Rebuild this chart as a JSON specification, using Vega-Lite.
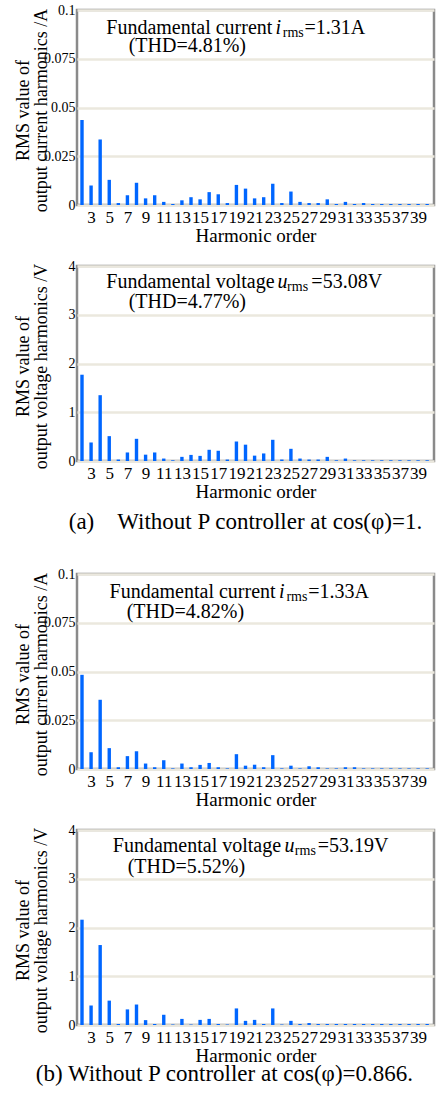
{
  "$schema": "https://vega.github.io/schema/vega-lite/v6.json",
  "padding": {"left": 12, "top": 1, "right": 1, "bottom": 2},
  "config": {
    "font": "Liberation Serif",
    "view": {"stroke": "#8a8a8a", "strokeWidth": 2.5},
    "axisX": {"labelFontSize": 17, "labelColor": "#000", "labelPadding": 4, "ticks": false, "domain": false, "grid": false, "labelOverlap": false, "labelFlush": false, "labelBound": false, "labelExpr": "'' + datum.value", "titleFontSize": 19, "titleFontWeight": "normal", "titleColor": "#000", "titlePadding": 1, "tickCount": 60},
    "axisY": {"labelFontSize": 14, "labelColor": "#000", "labelPadding": 2, "ticks": false, "domain": false, "grid": true, "gridColor": "#ebe8de", "gridWidth": 2.5, "labelOverlap": false, "labelFlush": false, "labelExpr": "'' + datum.value", "titleFontSize": 18, "titleFontWeight": "normal", "titleColor": "#000", "titleLineHeight": 18, "titleX": -45, "titleY": 100, "tickCount": 20},
    "title": {"fontSize": 23, "fontWeight": "normal", "color": "#000", "font": "Liberation Serif"},
    "text": {"font": "Liberation Serif", "fontSize": 20, "color": "#000", "align": "left", "baseline": "alphabetic"}
  },
  "datasets": {
    "current_a": [
      {"order": 2, "rms": 0.0436}, {"order": 3, "rms": 0.0100}, {"order": 4, "rms": 0.0336}, {"order": 5, "rms": 0.0129},
      {"order": 6, "rms": 0.0010}, {"order": 7, "rms": 0.0050}, {"order": 8, "rms": 0.0114}, {"order": 9, "rms": 0.0034},
      {"order": 10, "rms": 0.0050}, {"order": 11, "rms": 0.0016}, {"order": 12, "rms": 0.0005}, {"order": 13, "rms": 0.0024},
      {"order": 14, "rms": 0.0040}, {"order": 15, "rms": 0.0029}, {"order": 16, "rms": 0.0066}, {"order": 17, "rms": 0.0055},
      {"order": 18, "rms": 0.0010}, {"order": 19, "rms": 0.0103}, {"order": 20, "rms": 0.0084}, {"order": 21, "rms": 0.0034},
      {"order": 22, "rms": 0.0040}, {"order": 23, "rms": 0.0109}, {"order": 24, "rms": 0.0010}, {"order": 25, "rms": 0.0069},
      {"order": 26, "rms": 0.0016}, {"order": 27, "rms": 0.0010}, {"order": 28, "rms": 0.0010}, {"order": 29, "rms": 0.0029},
      {"order": 30, "rms": 0.0005}, {"order": 31, "rms": 0.0016}, {"order": 32, "rms": 0.0005}, {"order": 33, "rms": 0.0010},
      {"order": 34, "rms": 0.0005}, {"order": 35, "rms": 0.0005}, {"order": 36, "rms": 0.0005}, {"order": 37, "rms": 0.0005},
      {"order": 38, "rms": 0.0005}, {"order": 39, "rms": 0.0005}, {"order": 40, "rms": 0.0005}
    ],
    "voltage_a": [
      {"order": 2, "rms": 1.77}, {"order": 3, "rms": 0.38}, {"order": 4, "rms": 1.35}, {"order": 5, "rms": 0.51},
      {"order": 6, "rms": 0.03}, {"order": 7, "rms": 0.175}, {"order": 8, "rms": 0.455}, {"order": 9, "rms": 0.13},
      {"order": 10, "rms": 0.175}, {"order": 11, "rms": 0.05}, {"order": 12, "rms": 0.015}, {"order": 13, "rms": 0.085},
      {"order": 14, "rms": 0.125}, {"order": 15, "rms": 0.105}, {"order": 16, "rms": 0.23}, {"order": 17, "rms": 0.21},
      {"order": 18, "rms": 0.03}, {"order": 19, "rms": 0.40}, {"order": 20, "rms": 0.335}, {"order": 21, "rms": 0.11},
      {"order": 22, "rms": 0.155}, {"order": 23, "rms": 0.435}, {"order": 24, "rms": 0.03}, {"order": 25, "rms": 0.25},
      {"order": 26, "rms": 0.05}, {"order": 27, "rms": 0.03}, {"order": 28, "rms": 0.03}, {"order": 29, "rms": 0.085},
      {"order": 30, "rms": 0.015}, {"order": 31, "rms": 0.05}, {"order": 32, "rms": 0.015}, {"order": 33, "rms": 0.015},
      {"order": 34, "rms": 0.015}, {"order": 35, "rms": 0.015}, {"order": 36, "rms": 0.015}, {"order": 37, "rms": 0.015},
      {"order": 38, "rms": 0.015}, {"order": 39, "rms": 0.015}, {"order": 40, "rms": 0.015}
    ],
    "current_b": [
      {"order": 2, "rms": 0.0483}, {"order": 3, "rms": 0.0086}, {"order": 4, "rms": 0.0355}, {"order": 5, "rms": 0.0107},
      {"order": 6, "rms": 0.0009}, {"order": 7, "rms": 0.0066}, {"order": 8, "rms": 0.0091}, {"order": 9, "rms": 0.0028},
      {"order": 10, "rms": 0.0009}, {"order": 11, "rms": 0.0045}, {"order": 12, "rms": 0.0003}, {"order": 13, "rms": 0.0028},
      {"order": 14, "rms": 0.0009}, {"order": 15, "rms": 0.0021}, {"order": 16, "rms": 0.0031}, {"order": 17, "rms": 0.0009},
      {"order": 18, "rms": 0.0003}, {"order": 19, "rms": 0.0076}, {"order": 20, "rms": 0.0017}, {"order": 21, "rms": 0.0022},
      {"order": 22, "rms": 0.0009}, {"order": 23, "rms": 0.0071}, {"order": 24, "rms": 0.0003}, {"order": 25, "rms": 0.0017},
      {"order": 26, "rms": 0.0003}, {"order": 27, "rms": 0.0014}, {"order": 28, "rms": 0.0009}, {"order": 29, "rms": 0.0003},
      {"order": 30, "rms": 0.0003}, {"order": 31, "rms": 0.0009}, {"order": 32, "rms": 0.0009}, {"order": 33, "rms": 0.0003},
      {"order": 34, "rms": 0.0003}, {"order": 35, "rms": 0.0003}, {"order": 36, "rms": 0.0003}, {"order": 37, "rms": 0.0003},
      {"order": 38, "rms": 0.0003}, {"order": 39, "rms": 0.0003}, {"order": 40, "rms": 0.0003}
    ],
    "voltage_b": [
      {"order": 2, "rms": 2.16}, {"order": 3, "rms": 0.40}, {"order": 4, "rms": 1.64}, {"order": 5, "rms": 0.50},
      {"order": 6, "rms": 0.02}, {"order": 7, "rms": 0.32}, {"order": 8, "rms": 0.42}, {"order": 9, "rms": 0.10},
      {"order": 10, "rms": 0.02}, {"order": 11, "rms": 0.21}, {"order": 12, "rms": 0.01}, {"order": 13, "rms": 0.125},
      {"order": 14, "rms": 0.01}, {"order": 15, "rms": 0.105}, {"order": 16, "rms": 0.125}, {"order": 17, "rms": 0.02},
      {"order": 18, "rms": 0.01}, {"order": 19, "rms": 0.34}, {"order": 20, "rms": 0.085}, {"order": 21, "rms": 0.105},
      {"order": 22, "rms": 0.02}, {"order": 23, "rms": 0.34}, {"order": 24, "rms": 0.01}, {"order": 25, "rms": 0.085},
      {"order": 26, "rms": 0.02}, {"order": 27, "rms": 0.04}, {"order": 28, "rms": 0.02}, {"order": 29, "rms": 0.02},
      {"order": 30, "rms": 0.02}, {"order": 31, "rms": 0.02}, {"order": 32, "rms": 0.02}, {"order": 33, "rms": 0.02},
      {"order": 34, "rms": 0.02}, {"order": 35, "rms": 0.02}, {"order": 36, "rms": 0.02}, {"order": 37, "rms": 0.02},
      {"order": 38, "rms": 0.02}, {"order": 39, "rms": 0.02}, {"order": 40, "rms": 0.02}
    ]
  },
  "spacing": 30,
  "vconcat": [
    {
      "title": {"text": "(a)\u00a0\u00a0\u00a0\u00a0Without P controller at cos(φ)=1.", "orient": "bottom", "anchor": "start", "offset": 9, "dx": 56},
      "spacing": 10,
      "vconcat": [
        {
          "width": 357, "height": 195,
          "layer": [
            {"data": {"name": "current_a"}, "mark": {"type": "bar", "color": "#0066ff", "width": 3.4, "clip": true},
             "encoding": {
               "x": {"field": "order", "type": "quantitative", "scale": {"domain": [2, 40.2], "nice": false, "zero": false}, "axis": {"values": [3,5,7,9,11,13,15,17,19,21,23,25,27,29,31,33,35,37,39], "tickCount": 60, "labelOverlap": false, "title": "Harmonic order"}},
               "y": {"field": "rms", "type": "quantitative", "scale": {"domain": [0, 0.1], "nice": false}, "axis": {"values": [0, 0.025, 0.05, 0.075, 0.1], "tickCount": 20, "labelOverlap": false, "title": ["RMS value of", "output current harmonics /A"]}}
             }},
            {"data": {"values": [{"t": "Fundamental current "}]}, "mark": {"type": "text"}, "encoding": {"x": {"datum": 4.675, "type": "quantitative"}, "y": {"datum": 0.0878, "type": "quantitative"}, "text": {"field": "t"}}},
            {"data": {"values": [{"t": "i"}]}, "mark": {"type": "text", "fontStyle": "italic"}, "encoding": {"x": {"datum": 23.29, "type": "quantitative"}, "y": {"datum": 0.0878, "type": "quantitative"}, "text": {"field": "t"}}},
            {"data": {"values": [{"t": "rms"}]}, "mark": {"type": "text", "fontSize": 14, "dy": 3}, "encoding": {"x": {"datum": 24.1, "type": "quantitative"}, "y": {"datum": 0.0878, "type": "quantitative"}, "text": {"field": "t"}}},
            {"data": {"values": [{"t": "=1.31A"}]}, "mark": {"type": "text"}, "encoding": {"x": {"datum": 26.5, "type": "quantitative"}, "y": {"datum": 0.0878, "type": "quantitative"}, "text": {"field": "t"}}},
            {"data": {"values": [{"t": "(THD=4.81%)"}]}, "mark": {"type": "text"}, "encoding": {"x": {"datum": 7.136, "type": "quantitative"}, "y": {"datum": 0.0785, "type": "quantitative"}, "text": {"field": "t"}}}
          ]
        },
        {
          "width": 357, "height": 195,
          "layer": [
            {"data": {"name": "voltage_a"}, "mark": {"type": "bar", "color": "#0066ff", "width": 3.4, "clip": true},
             "encoding": {
               "x": {"field": "order", "type": "quantitative", "scale": {"domain": [2, 40.2], "nice": false, "zero": false}, "axis": {"values": [3,5,7,9,11,13,15,17,19,21,23,25,27,29,31,33,35,37,39], "tickCount": 60, "labelOverlap": false, "title": "Harmonic order"}},
               "y": {"field": "rms", "type": "quantitative", "scale": {"domain": [0, 4], "nice": false}, "axis": {"values": [0, 1, 2, 3, 4], "tickCount": 20, "labelOverlap": false, "title": ["RMS value of", "output voltage harmonics /V"]}}
             }},
            {"data": {"values": [{"t": "Fundamental voltage "}]}, "mark": {"type": "text"}, "encoding": {"x": {"datum": 4.675, "type": "quantitative"}, "y": {"datum": 3.54, "type": "quantitative"}, "text": {"field": "t"}}},
            {"data": {"values": [{"t": "u"}]}, "mark": {"type": "text", "fontStyle": "italic"}, "encoding": {"x": {"datum": 23.51, "type": "quantitative"}, "y": {"datum": 3.54, "type": "quantitative"}, "text": {"field": "t"}}},
            {"data": {"values": [{"t": "rms"}]}, "mark": {"type": "text", "fontSize": 14, "dy": 3}, "encoding": {"x": {"datum": 24.58, "type": "quantitative"}, "y": {"datum": 3.54, "type": "quantitative"}, "text": {"field": "t"}}},
            {"data": {"values": [{"t": "=53.08V"}]}, "mark": {"type": "text"}, "encoding": {"x": {"datum": 27.25, "type": "quantitative"}, "y": {"datum": 3.54, "type": "quantitative"}, "text": {"field": "t"}}},
            {"data": {"values": [{"t": "(THD=4.77%)"}]}, "mark": {"type": "text"}, "encoding": {"x": {"datum": 7.136, "type": "quantitative"}, "y": {"datum": 3.13, "type": "quantitative"}, "text": {"field": "t"}}}
          ]
        }
      ]
    },
    {
      "title": {"text": "(b) Without P controller at cos(φ)=0.866.", "orient": "bottom", "anchor": "start", "offset": -3, "dx": 23},
      "spacing": 10,
      "vconcat": [
        {
          "width": 357, "height": 195,
          "layer": [
            {"data": {"name": "current_b"}, "mark": {"type": "bar", "color": "#0066ff", "width": 3.4, "clip": true},
             "encoding": {
               "x": {"field": "order", "type": "quantitative", "scale": {"domain": [2, 40.2], "nice": false, "zero": false}, "axis": {"values": [3,5,7,9,11,13,15,17,19,21,23,25,27,29,31,33,35,37,39], "tickCount": 60, "labelOverlap": false, "title": "Harmonic order"}},
               "y": {"field": "rms", "type": "quantitative", "scale": {"domain": [0, 0.1], "nice": false}, "axis": {"values": [0, 0.025, 0.05, 0.075, 0.1], "tickCount": 20, "labelOverlap": false, "title": ["RMS value of", "output current harmonics /A"]}}
             }},
            {"data": {"values": [{"t": "Fundamental current "}]}, "mark": {"type": "text"}, "encoding": {"x": {"datum": 5.03, "type": "quantitative"}, "y": {"datum": 0.0878, "type": "quantitative"}, "text": {"field": "t"}}},
            {"data": {"values": [{"t": "i"}]}, "mark": {"type": "text", "fontStyle": "italic"}, "encoding": {"x": {"datum": 23.69, "type": "quantitative"}, "y": {"datum": 0.0878, "type": "quantitative"}, "text": {"field": "t"}}},
            {"data": {"values": [{"t": "rms"}]}, "mark": {"type": "text", "fontSize": 14, "dy": 3}, "encoding": {"x": {"datum": 24.5, "type": "quantitative"}, "y": {"datum": 0.0878, "type": "quantitative"}, "text": {"field": "t"}}},
            {"data": {"values": [{"t": "=1.33A"}]}, "mark": {"type": "text"}, "encoding": {"x": {"datum": 26.9, "type": "quantitative"}, "y": {"datum": 0.0878, "type": "quantitative"}, "text": {"field": "t"}}},
            {"data": {"values": [{"t": "(THD=4.82%)"}]}, "mark": {"type": "text"}, "encoding": {"x": {"datum": 6.92, "type": "quantitative"}, "y": {"datum": 0.0776, "type": "quantitative"}, "text": {"field": "t"}}}
          ]
        },
        {
          "width": 357, "height": 195,
          "layer": [
            {"data": {"name": "voltage_b"}, "mark": {"type": "bar", "color": "#0066ff", "width": 3.4, "clip": true},
             "encoding": {
               "x": {"field": "order", "type": "quantitative", "scale": {"domain": [2, 40.2], "nice": false, "zero": false}, "axis": {"values": [3,5,7,9,11,13,15,17,19,21,23,25,27,29,31,33,35,37,39], "tickCount": 60, "labelOverlap": false, "title": "Harmonic order"}},
               "y": {"field": "rms", "type": "quantitative", "scale": {"domain": [0, 4], "nice": false}, "axis": {"values": [0, 1, 2, 3, 4], "tickCount": 20, "labelOverlap": false, "title": ["RMS value of", "output voltage harmonics /V"]}}
             }},
            {"data": {"values": [{"t": "Fundamental voltage "}]}, "mark": {"type": "text"}, "encoding": {"x": {"datum": 5.39, "type": "quantitative"}, "y": {"datum": 3.54, "type": "quantitative"}, "text": {"field": "t"}}},
            {"data": {"values": [{"t": "u"}]}, "mark": {"type": "text", "fontStyle": "italic"}, "encoding": {"x": {"datum": 24.29, "type": "quantitative"}, "y": {"datum": 3.54, "type": "quantitative"}, "text": {"field": "t"}}},
            {"data": {"values": [{"t": "rms"}]}, "mark": {"type": "text", "fontSize": 14, "dy": 3}, "encoding": {"x": {"datum": 25.43, "type": "quantitative"}, "y": {"datum": 3.54, "type": "quantitative"}, "text": {"field": "t"}}},
            {"data": {"values": [{"t": "=53.19V"}]}, "mark": {"type": "text"}, "encoding": {"x": {"datum": 27.95, "type": "quantitative"}, "y": {"datum": 3.54, "type": "quantitative"}, "text": {"field": "t"}}},
            {"data": {"values": [{"t": "(THD=5.52%)"}]}, "mark": {"type": "text"}, "encoding": {"x": {"datum": 7.03, "type": "quantitative"}, "y": {"datum": 3.12, "type": "quantitative"}, "text": {"field": "t"}}}
          ]
        }
      ]
    }
  ]
}
